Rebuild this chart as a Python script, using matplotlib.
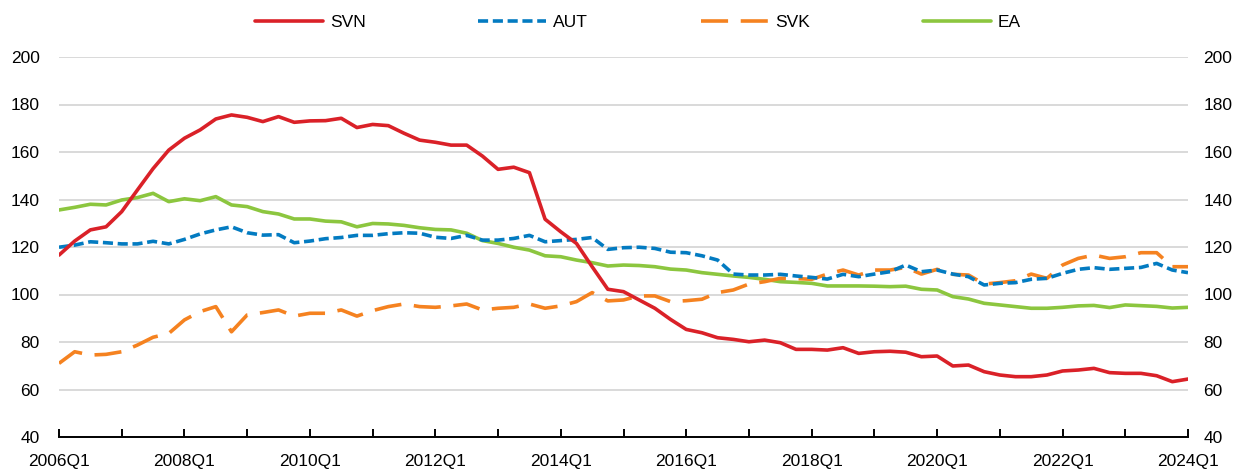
import matplotlib
matplotlib.use("Agg")
import matplotlib.pyplot as plt

plt.rcParams['font.family'] = ['Liberation Sans', 'DejaVu Sans']

quarters = [f"{y}Q{q}" for y in range(2006, 2025) for q in range(1, 5)][:73]

svn = [116.6, 122.5, 127.2, 128.5, 134.9, 144.0, 153.0, 160.8, 165.8, 169.3,
       173.9, 175.6, 174.6, 172.8, 174.9, 172.5, 173.1, 173.2, 174.2, 170.3,
       171.6, 171.1, 167.9, 165.0, 164.1, 162.9, 162.9, 158.3, 152.7, 153.6,
       151.3, 131.7, 126.4, 121.5, 111.7, 102.2, 101.2, 97.7, 94.2, 89.5,
       85.3, 83.9, 81.8, 81.1, 80.1, 80.8, 79.7, 76.9, 76.9, 76.6,
       77.6, 75.2, 75.9, 76.1, 75.7, 73.8, 74.1, 69.9, 70.3, 67.5,
       66.1, 65.4, 65.4, 66.1, 67.8, 68.2, 68.9, 67.1, 66.8, 66.8,
       65.8, 63.3, 64.4]

aut = [119.9, 120.8, 122.2, 121.8, 121.3, 121.3, 122.4, 121.3, 123.2, 125.5,
       127.2, 128.5, 126.0, 125.0, 125.2, 121.8, 122.5, 123.5, 124.0, 124.9,
       124.9, 125.6, 126.0, 125.8, 124.1, 123.6, 124.9, 122.9, 122.9, 123.6,
       124.9, 122.2, 122.7, 123.2, 124.0, 119.0, 119.7, 119.9, 119.4, 117.8,
       117.6, 116.3, 114.5, 108.6, 108.2, 108.2, 108.5, 107.8, 107.2, 106.5,
       108.5, 107.5, 108.6, 109.6, 112.4, 109.6, 110.3, 108.6, 107.5, 104.0,
       104.7, 105.0, 106.4, 106.8, 108.9, 110.6, 111.3, 110.6, 111.0, 111.4,
       113.1, 110.3, 109.2]

svk = [71.0, 75.9, 74.5, 74.8, 75.9, 78.7, 82.0, 83.6, 89.3, 92.8,
       94.9, 84.3, 91.4, 92.4, 93.5, 90.9, 92.1, 92.1, 93.5, 90.9,
       93.2, 94.9, 96.0, 94.9, 94.6, 95.2, 96.0, 93.5, 94.2, 94.6,
       96.0, 94.2, 95.2, 97.0, 100.8, 97.3, 97.7, 99.4, 99.4, 97.0,
       97.4, 98.0, 100.8, 101.9, 104.4, 105.4, 106.8, 106.7, 106.4, 108.6,
       110.3, 108.2, 110.3, 110.3, 111.4, 108.6, 110.6, 108.5, 108.2, 104.4,
       105.0, 105.8, 108.6, 106.8, 112.4, 115.2, 116.6, 115.2, 115.9, 117.6,
       117.6, 111.7, 111.7]

ea = [135.6, 136.7, 138.0, 137.7, 139.8, 140.8, 142.6, 139.1, 140.3, 139.5,
      141.2, 137.7, 137.0, 134.9, 133.9, 131.8, 131.8, 130.9, 130.6, 128.5,
      129.9, 129.7, 129.1, 128.1, 127.4, 127.2, 125.8, 122.7, 121.5, 119.9,
      118.7, 116.3, 115.9, 114.5, 113.4, 112.0, 112.4, 112.2, 111.7, 110.7,
      110.3, 109.2, 108.5, 107.8, 107.2, 106.4, 105.4, 105.1, 104.7, 103.6,
      103.6, 103.6, 103.5, 103.3, 103.5, 102.2, 101.9, 99.1, 98.1, 96.3,
      95.6, 94.9, 94.2, 94.2, 94.6, 95.2, 95.4, 94.5, 95.6, 95.3,
      95.0, 94.3, 94.6]

yticks = [40, 60, 80, 100, 120, 140, 160, 180, 200]
FS = 12.5

fig = plt.figure(figsize=(12.35, 4.72), dpi=100)
ax = fig.add_axes([59/1235, 1-437/472, (1188-59)/1235, (437-57)/472])

x = list(range(len(quarters)))
lw = 2.6
ax.plot(x, svn, color="#DA2128", lw=lw, label="SVN", solid_capstyle="round", solid_joinstyle="round", zorder=5)
ax.plot(x, aut, color="#037BC1", lw=lw, label="AUT", dashes=(2.8, 1.3), dash_capstyle="butt", zorder=4)
ax.plot(x, svk, color="#F58220", lw=lw, label="SVK", dashes=(7.5, 3.5), dash_capstyle="butt", zorder=3)
ax.plot(x, ea, color="#8CC63F", lw=lw, label="EA", solid_capstyle="round", zorder=2)

ax.set_xlim(0, len(quarters) - 1)
ax.set_ylim(40, 200)
ax.set_yticks(yticks)
ax.grid(axis="y", color="#D9D9D9", lw=1.4)
ax.set_axisbelow(True)
for s in ["top", "left", "right"]:
    ax.spines[s].set_visible(False)
ax.spines["bottom"].set_color("black")
ax.spines["bottom"].set_linewidth(1.4)

major = [i for i in x if i % 8 == 0]
minor = [i for i in x if i % 4 == 0]
ax.set_xticks(minor, minor=True)
ax.set_xticks(major)
ax.set_xticklabels([quarters[i] for i in major])
ax.tick_params(axis="x", which="both", direction="in", length=6, width=1.4, color="black", pad=12, labelsize=FS)
ax.tick_params(axis="y", length=0, labelsize=FS, pad=14)

ax2 = ax.twinx()
ax2.set_ylim(40, 200)
ax2.set_yticks(yticks)
ax2.tick_params(axis="y", length=0, labelsize=FS, pad=11)
for s in ax2.spines.values():
    s.set_visible(False)

fig.legend(*ax.get_legend_handles_labels(), loc="center", bbox_to_anchor=(0.5165, 0.953), ncol=4, frameon=False,
           fontsize=FS, handlelength=3.9, columnspacing=6.5, handletextpad=0.4)

fig.savefig("out.png", dpi=100)
